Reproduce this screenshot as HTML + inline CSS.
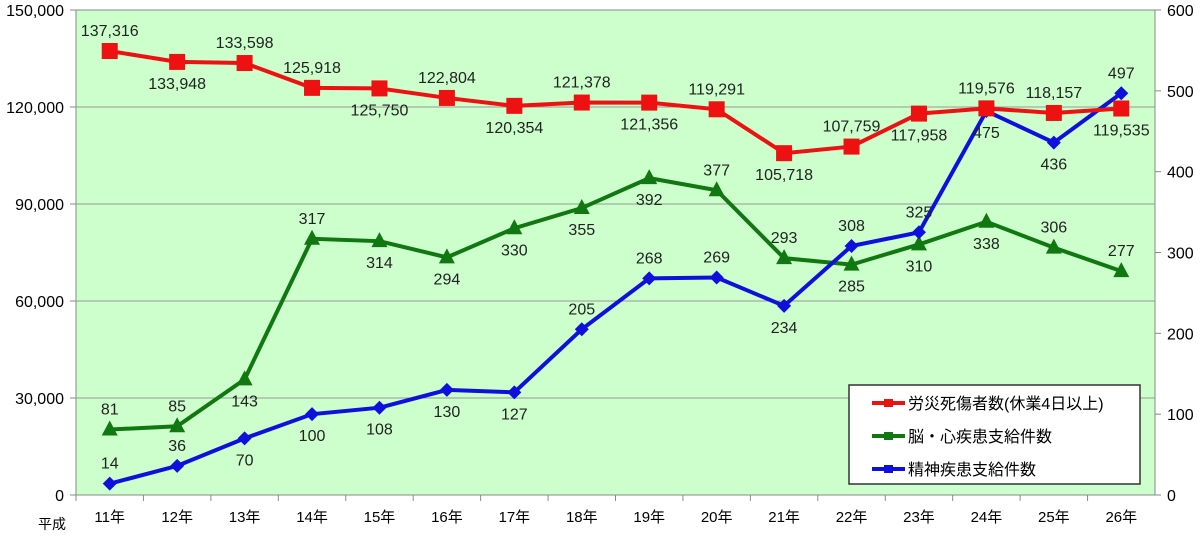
<!DOCTYPE html>
<html><head><meta charset="utf-8"><style>
body{margin:0;background:#fff;font-family:"Liberation Sans","Noto Sans CJK JP",sans-serif}
svg text{font-family:"Liberation Sans","Noto Sans CJK JP",sans-serif}
</style></head><body>
<svg id="c" width="1200" height="535"></svg>
<script>
const categories=["11年","12年","13年","14年","15年","16年","17年","18年","19年","20年","21年","22年","23年","24年","25年","26年"];
const injuries=[137316,133948,133598,125918,125750,122804,120354,121378,121356,119291,105718,107759,117958,119576,118157,119535];
const brainHeart=[81,85,143,317,314,294,330,355,392,377,293,285,310,338,306,277];
const mental=[14,36,70,100,108,130,127,205,268,269,234,308,325,475,436,497];
const leftTicks=[0,30000,60000,90000,120000,150000];
const rightTicks=[0,100,200,300,400,500,600];
const redPos="abaabababababaab";
const greenPos="aababbbbbaabbbaa";
const bluePos="aabbbbbaaabaabba";
const svg=document.getElementById('c');const NS="http://www.w3.org/2000/svg";
const L=76,R=1155,T=10,B=495;
const x=i=>L+(i+0.5)*(R-L)/categories.length;
const yl=v=>B-v/150000*(B-T);
const yr=v=>B-v/600*(B-T);
function el(t,a,p){const e=document.createElementNS(NS,t);for(const k in a)e.setAttribute(k,a[k]);(p||svg).appendChild(e);return e;}
function tx(s,a){const e=el('text',a);e.textContent=s;return e;}
const bg=el('rect',{x:L,y:T,width:R-L,height:B-T,fill:'#ccffcc',stroke:'#888'});

leftTicks.forEach(v=>{
 if(v>0&&v<150000){const g=el('line',{x1:L,x2:R,y1:yl(v),y2:yl(v),stroke:'#999'});}
 el('line',{x1:L-6,x2:L,y1:yl(v),y2:yl(v),stroke:'#888'});
 const t=tx(v.toLocaleString('en-US'),{x:L-12,y:yl(v)+6,'text-anchor':'end','font-size':16,fill:'#000'});
 
});
rightTicks.forEach(v=>{
 el('line',{x1:R,x2:R+6,y1:yr(v),y2:yr(v),stroke:'#888'});
 const t=tx(v,{x:R+12,y:yr(v)+6,'font-size':16,fill:'#000'});
 
});
categories.forEach((c,i)=>{
 el('line',{x1:L+i*(R-L)/16,x2:L+i*(R-L)/16,y1:B,y2:B+6,stroke:'#888'});
 const t=tx(c,{x:x(i),y:B+27,'text-anchor':'middle','font-size':15,fill:'#000'});
 
});
const h=tx('平成',{x:38,y:B+34,'font-size':14,fill:'#000'});
function series(data,yf,color,name,marker,pos,fmt){
 const pl=el('polyline',{points:data.map((v,i)=>x(i)+','+yf(v)).join(' '),fill:'none',stroke:color,'stroke-width':4});
 
 data.forEach((v,i)=>{const cx=x(i),cy=yf(v);let m;
  if(marker=='sq')m=el('rect',{x:cx-8,y:cy-8,width:16,height:16,fill:color});
  else if(marker=='tri')m=el('polygon',{points:`${cx},${cy-9} ${cx+8},${cy+6} ${cx-8},${cy+6}`,fill:color});
  else m=el('polygon',{points:`${cx},${cy-7} ${cx+7},${cy} ${cx},${cy+7} ${cx-7},${cy}`,fill:color});
  
  const t=tx(fmt(v),{x:cx,y:pos[i]=='a'?cy-15:cy+27,'text-anchor':'middle','font-size':16,fill:'#222'});
  
 });
}
series(brainHeart,yr,'#117711','brain-heart','tri',greenPos,v=>v);
series(mental,yr,'#1010dd','mental','dia',bluePos,v=>v);
series(injuries,yl,'#ee1111','injuries','sq',redPos,v=>v.toLocaleString('en-US'));
const lg=el('g',{});
el('rect',{x:849,y:385,width:291,height:99,fill:'#fff',stroke:'#333','stroke-width':1.5},lg);
[['労災死傷者数(休業4日以上)','#ee1111'],['脳・心疾患支給件数','#117711'],['精神疾患支給件数','#1010dd']].forEach((d,i)=>{
 const y=403+i*33;
 const g=el('g',{},lg);
 el('line',{x1:872,x2:905,y1:y,y2:y,stroke:d[1],'stroke-width':4},g);
 el('rect',{x:884,y:y-4,width:9,height:8,fill:d[1]},g);
 const t=el('text',{x:908,y:y+6,'font-size':16,fill:'#000'},g);t.textContent=d[0];
});
</script>
</body></html>
